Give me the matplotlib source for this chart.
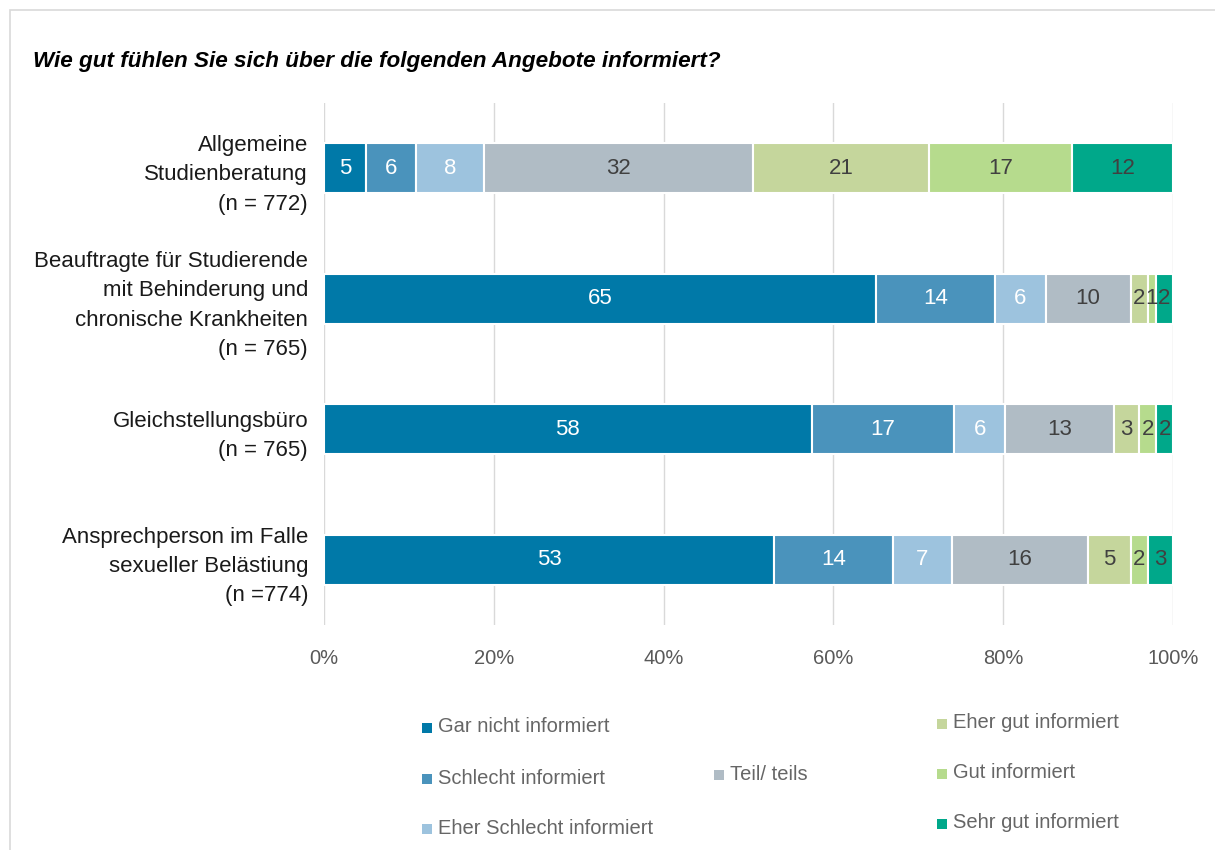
import matplotlib.pyplot as plt
from matplotlib.patches import Rectangle
import numpy as np

plt.rcParams['font.family'] = ['Liberation Sans', 'DejaVu Sans']

categories = [
    "Allgemeine\nStudienberatung\n(n = 772)",
    "Beauftragte für Studierende\nmit Behinderung und\nchronische Krankheiten\n(n = 765)",
    "Gleichstellungsbüro\n(n = 765)",
    "Ansprechperson im Falle\nsexueller Belästiung\n(n =774)",
]
series = ["Gar nicht informiert", "Schlecht informiert", "Eher Schlecht informiert",
          "Teil/ teils", "Eher gut informiert", "Gut informiert", "Sehr gut informiert"]
colors = ["#0079A8", "#4A93BC", "#9DC3DE", "#B0BCC5", "#C5D69C", "#B6DB8D", "#00A88A"]
text_colors = ["white", "white", "white", "#404040", "#404040", "#404040", "#404040"]

values = np.array([
    [5, 6, 8, 32, 21, 17, 12],
    [65, 14, 6, 10, 2, 1, 2],
    [58, 17, 6, 13, 3, 2, 2],
    [53, 14, 7, 16, 5, 2, 3],
])
xticks = [0, 0.2, 0.4, 0.6, 0.8, 1.0]
xtick_labels = ["0%", "20%", "40%", "60%", "80%", "100%"]

W, H = 1215, 850
fig = plt.figure(figsize=(W / 100, H / 100), dpi=100)
ax = fig.add_axes([324 / W, 1 - 625 / H, 849 / W, 522 / H])

shares = values / values.sum(axis=1, keepdims=True)
y = np.arange(len(categories))
left = np.zeros(len(categories))
for k in range(len(series)):
    ax.barh(y, shares[:, k], left=left, height=0.385, color=colors[k],
            edgecolor="white", linewidth=1.5, zorder=3)
    for i in range(len(categories)):
        ax.text(left[i] + shares[i, k] / 2, y[i], str(values[i, k]),
                ha="center", va="center", fontsize=16, color=text_colors[k], zorder=4)
    left += shares[:, k]

ax.set_xlim(0, 1)
ax.set_ylim(3.5, -0.5)
ax.set_xticks(xticks)
ax.set_xticklabels(xtick_labels, fontsize=14.5, color="#595959")
ax.set_yticks(y)
ax.set_yticklabels(categories, fontsize=16, color="#1a1a1a", linespacing=1.52)
ax.tick_params(axis="both", length=0)
ax.tick_params(axis="x", pad=17)
ax.tick_params(axis="y", pad=11.5)
ax.xaxis.grid(True, color="#D9D9D9", linewidth=1, zorder=0)
for s in ax.spines.values():
    s.set_visible(False)

fig.text(33 / W, 1 - 62 / H, "Wie gut fühlen Sie sich über die folgenden Angebote informiert?",
         fontsize=16.2, fontweight="bold", fontstyle="italic", va="center", color="black")

# legend, placed like the original (square centre x, text centre y)
leg_pos = [(427, 727), (427, 778), (427, 828), (719, 774), (942, 723), (942, 773), (942, 823)]
for (px, py), name, c in zip(leg_pos, series, colors):
    fig.patches.append(Rectangle(((px - 5) / W, 1 - (py + 6) / H), 10 / W, 10 / H,
                                 transform=fig.transFigure, facecolor=c, edgecolor="none"))
    fig.text((px + 11) / W, 1 - py / H, name, fontsize=14.5, color="#666666", va="center")

# outer frame
fig.patches.append(Rectangle((10 / W, -0.1), 1.2, 1 - 10 / H + 0.1, transform=fig.transFigure,
                             fill=False, edgecolor="#D9D9D9", linewidth=1.2))

fig.savefig("out.png", dpi=100)
